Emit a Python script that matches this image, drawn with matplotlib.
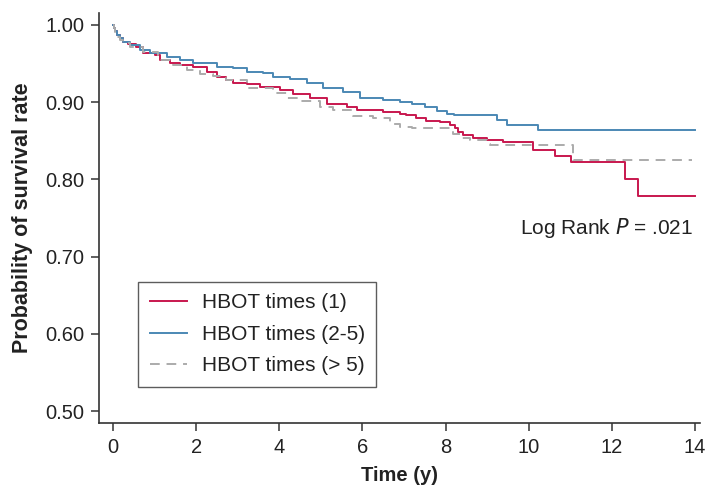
import matplotlib
matplotlib.use("Agg")
import matplotlib.pyplot as plt

plt.rcParams['font.family'] = ['Liberation Sans', 'DejaVu Sans']

# Kaplan-Meier step data
t_one = [0, 0.02, 0.05, 0.10, 0.17, 0.25, 0.37, 0.55, 0.72, 1.01, 1.13, 1.37, 1.61, 1.92,
         2.25, 2.49, 2.73, 2.89, 3.22, 3.54, 4.02, 4.33, 4.74, 5.14, 5.62, 5.86, 6.49,
         6.90, 7.06, 7.30, 7.54, 7.87, 8.10, 8.23, 8.31, 8.43, 8.67, 8.99, 9.39, 10.11,
         10.63, 11.01, 12.32, 12.64, 14.0]
s_one = [1.000, 0.996, 0.992, 0.987, 0.983, 0.978, 0.975, 0.971, 0.964, 0.961, 0.955, 0.951,
         0.948, 0.945, 0.939, 0.933, 0.929, 0.925, 0.923, 0.920, 0.916, 0.911, 0.906, 0.898,
         0.894, 0.890, 0.887, 0.885, 0.883, 0.879, 0.875, 0.874, 0.870, 0.866, 0.861, 0.857,
         0.854, 0.851, 0.848, 0.838, 0.830, 0.822, 0.800, 0.778, 0.778]

t_two = [0, 0.02, 0.05, 0.10, 0.17, 0.25, 0.41, 0.65, 0.89, 1.29, 1.61, 1.93, 2.49, 2.89,
         3.22, 3.61, 3.85, 4.26, 4.66, 5.05, 5.53, 5.94, 6.49, 6.90, 7.20, 7.50, 7.80,
         8.03, 8.20, 9.23, 9.47, 10.23, 14.0]
s_two = [1.000, 0.996, 0.992, 0.987, 0.983, 0.978, 0.974, 0.968, 0.964, 0.959, 0.955, 0.951,
         0.946, 0.944, 0.939, 0.938, 0.933, 0.930, 0.925, 0.918, 0.913, 0.906, 0.903, 0.900,
         0.897, 0.894, 0.889, 0.885, 0.884, 0.877, 0.871, 0.864, 0.864]

t_many = [0, 0.02, 0.05, 0.10, 0.17, 0.25, 0.41, 0.72, 1.08, 1.44, 1.77, 2.09, 2.41, 2.73,
          3.22, 3.85, 4.18, 4.50, 4.98, 5.29, 5.77, 6.25, 6.66, 6.90, 7.20, 8.10, 8.19,
          8.34, 8.59, 8.99, 9.07, 11.07, 13.92]
s_many = [1.000, 0.996, 0.991, 0.985, 0.980, 0.976, 0.971, 0.965, 0.955, 0.948, 0.942, 0.936,
          0.934, 0.929, 0.918, 0.912, 0.906, 0.902, 0.894, 0.890, 0.882, 0.879, 0.872, 0.868,
          0.866, 0.864, 0.859, 0.854, 0.851, 0.846, 0.844, 0.825, 0.825]

labels = ["HBOT times (1)", "HBOT times (2-5)", "HBOT times (> 5)"]
x_ticks = [0, 2, 4, 6, 8, 10, 12, 14]
y_ticks = [0.50, 0.60, 0.70, 0.80, 0.90, 1.00]

fig = plt.figure(figsize=(7.06, 4.90), dpi=100)
ax = fig.add_axes([0.1402, 0.1367, 0.8513, 0.8368])

ax.plot(t_one, s_one, drawstyle='steps-post', color='#c8174e', lw=1.4, label=labels[0])
ax.plot(t_two, s_two, drawstyle='steps-post', color='#4b88b4', lw=1.4, label=labels[1])
ax.plot(t_many, s_many, drawstyle='steps-post', color='#ababab', lw=1.4,
        dashes=(5, 3.5), label=labels[2])

ax.set_xlim(-0.337, 14.12)
ax.set_ylim(0.4845, 1.0155)
ax.set_xticks(x_ticks)
ax.set_xticklabels([str(v) for v in x_ticks])
ax.set_yticks(y_ticks)
ax.set_yticklabels([f"{v:.2f}" for v in y_ticks])

for s in ['top', 'right']:
    ax.spines[s].set_visible(False)
for s in ['left', 'bottom']:
    ax.spines[s].set_color('#333333')
    ax.spines[s].set_linewidth(1.2)
ax.tick_params(axis='both', labelsize=14.5, length=5.5, width=1.2, color='#444444',
               labelcolor='#222222', pad=5)

ax.set_xlabel("Time (y)", fontsize=14.5, fontweight='bold', labelpad=7, color='#222222')
ax.set_ylabel("Probability of survival rate", fontsize=15.5, fontweight='bold',
              labelpad=9, color='#222222')

ax.text(13.95, 0.737, "Log Rank $\\mathit{P}$ = .021", ha='right', va='center',
        fontsize=15, color='#222222')

leg = ax.legend(loc='upper left', bbox_to_anchor=(0.065, 0.344), borderaxespad=0,
                fontsize=15, frameon=True, fancybox=False, edgecolor='#333333',
                handlelength=1.8, handletextpad=0.7, labelspacing=0.6,
                borderpad=0.55)
leg.get_frame().set_linewidth(1.0)
for txt in leg.get_texts():
    txt.set_color('#222222')

fig.savefig("out.png", dpi=100)
